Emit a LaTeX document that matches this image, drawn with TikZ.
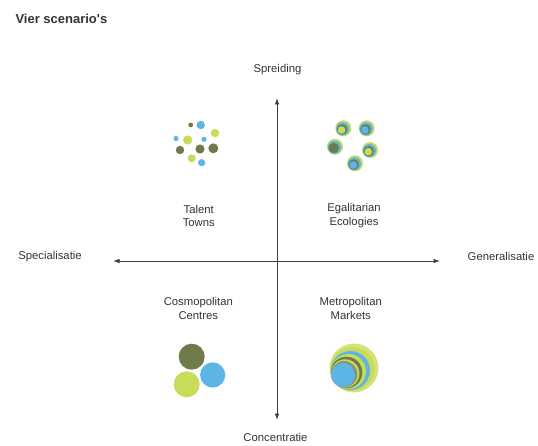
\documentclass[tikz,border=0pt]{standalone}
\usepackage{fontspec}
\setmainfont{Liberation Sans}
\usetikzlibrary{arrows.meta}
\definecolor{olijf}{HTML}{6E7B4B}
\definecolor{limoen}{HTML}{C8DC5A}
\definecolor{hemel}{HTML}{5CB5E6}
\tikzset{
  aslabel/.style={inner sep=0pt,text=black!80},
  kwadrant/.style={inner sep=0pt,align=center,text=black!80,font=\fontsize{11.3}{13.6}\selectfont},
  as/.style={{Latex[length=6.5pt,width=4.6pt]}-{Latex[length=6.5pt,width=4.6pt]},line width=0.9pt,draw=black!75}
}
\begin{document}
\begin{tikzpicture}[line join=round,line cap=round,x=1pt,y=-1pt,font=\fontsize{11.3}{13}\selectfont]
		\useasboundingbox (0,0) rectangle (538,446);
		\def\bol(#1,#2,#3,#4){\fill[#4] (#1,#2) circle (#3);}
		\def\ring(#1,#2,#3){%
			\fill[limoen] (#1,#2) circle (8);
			\fill[hemel] ({#1-0.6},{#2+0.6}) circle (6.6);
			\fill[olijf] ({#1-1.2},{#2+1.2}) circle (5.2);
			\fill[#3] ({#1-1.7},{#2+1.7}) circle (3.8);}
		
		\node[anchor=west,font=\fontsize{13}{15}\selectfont\bfseries,text=black!80] (titel) at (12,18.5){Vier scenario\textquotesingle s};
		
		% assen
		\coordinate (boven) at (277,98);
		\coordinate (onder) at (277,420);
		\coordinate (links) at (113,261);
		\coordinate (rechts) at (440,261);
		\draw[as] (onder)--(boven);
		\draw[as] (links)--(rechts);
		\node[aslabel] (spreiding) at (277.5,70){Spreiding};
		\node[aslabel] (concentratie) at (275.5,437){Concentratie};
		\node[aslabel] (specialisatie) at (50,256.5){Specialisatie};
		\node[aslabel] (generalisatie) at (501,256){Generalisatie};
		
		\node[kwadrant] (talent) at (198.8,216){Talent\\Towns};
		\node[kwadrant] (egalitarian) at (354,215.5){Egalitarian\\Ecologies};
		\node[kwadrant] (cosmopolitan) at (198.3,308.5){Cosmopolitan\\Centres};
		\node[kwadrant] (metropolitan) at (350.8,308.5){Metropolitan\\Markets};
		
		% Talent Towns: kleine stippen
		\bol(190.7,125,2.4,olijf)
		\bol(200.7,125,4.2,hemel)
		\bol(176,138.5,2.6,hemel)
		\bol(187.7,140,4.6,limoen)
		\bol(204,139.3,2.6,hemel)
		\bol(215,133,4.2,limoen)
		\bol(180,150,4.2,olijf)
		\bol(200,149,4.6,olijf)
		\bol(213.3,148.3,5,olijf)
		\bol(191.7,158.3,4,limoen)
		\bol(201.7,162.7,3.6,hemel)
		
		% Egalitarian Ecologies: vijf ringen
		\ring(343.3,128.3,limoen)
		\ring(366.7,128.3,hemel)
		\ring(335,146.7,olijf)
		\ring(370,150,limoen)
		\ring(355,163.3,hemel)
		
		% Cosmopolitan Centres: drie bollen
		\bol(191.7,356.7,13,olijf)
		\bol(212.7,375,12.6,hemel)
		\bol(186.7,384.3,13,limoen)
		
		% Metropolitan Markets: een grote ring
		\fill[limoen!80!white] (354,368) circle (24.5);
		\fill[limoen] (352.5,369) circle (22);
		\fill[hemel] (350.5,370.5) circle (19.5);
		\fill[limoen] (348.5,371.5) circle (17.5);
		\fill[olijf] (346.5,372.5) circle (15.8);
		\fill[limoen] (345.2,373.5) circle (14.2);
		\fill[olijf!80] (344.2,374.2) circle (13.2);
		\fill[hemel] (343,375) circle (12);
\end{tikzpicture}
\end{document}
